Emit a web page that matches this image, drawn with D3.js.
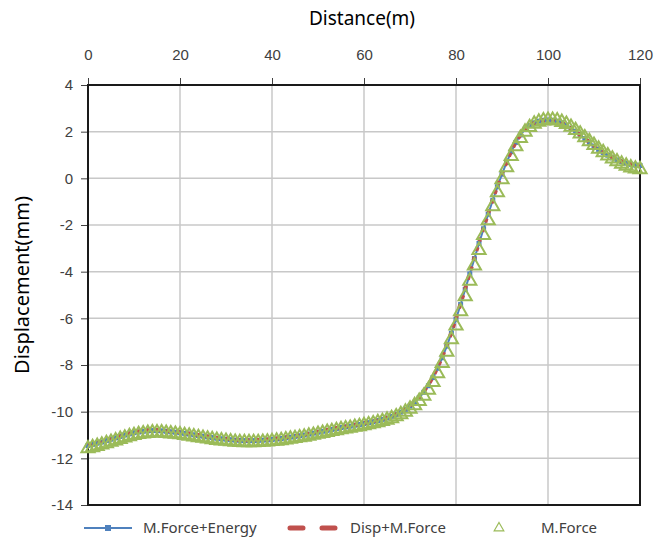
<!DOCTYPE html>
<html>
<head>
<meta charset="utf-8">
<script src="https://cdn.jsdelivr.net/npm/d3@7"></script>
<style>
  body { margin: 0; background: #fff; }
  svg { font-family: "Noto Sans", "Liberation Sans", sans-serif; }
</style>
</head>
<body>
<div id="chart"></div>
<script>
// distances (m) along the line
var distance = [0,1,2,3,4,5,6,7,8,9,10,11,12,13,14,15,16,17,18,19,20,21,22,23,24,25,26,27,28,29,30,
  31,32,33,34,35,36,37,38,39,40,41,42,43,44,45,46,47,48,49,50,51,52,53,54,55,56,57,58,59,60,
  61,62,63,64,65,66,67,68,69,70,71,72,73,74,75,76,77,78,79,80,81,82,83,84,85,86,87,88,89,90,
  91,92,93,94,95,96,97,98,99,100,101,102,103,104,105,106,107,108,109,110,111,112,113,114,115,116,117,118,119,120];

// M.Force+Energy
var forceEnergy = [-11.45,-11.40,-11.35,-11.30,-11.24,-11.18,-11.12,-11.06,-11.00,-10.95,-10.90,-10.87,-10.84,-10.82,-10.81,-10.81,
  -10.82,-10.84,-10.86,-10.88,-10.90,-10.93,-10.96,-10.99,-11.02,-11.05,-11.08,-11.11,-11.14,-11.16,-11.18,
  -11.20,-11.22,-11.23,-11.24,-11.24,-11.24,-11.23,-11.22,-11.21,-11.19,-11.17,-11.15,-11.12,-11.09,-11.06,
  -11.03,-11.00,-10.96,-10.92,-10.88,-10.84,-10.80,-10.76,-10.72,-10.68,-10.65,-10.62,-10.58,-10.55,-10.51,
  -10.47,-10.43,-10.38,-10.33,-10.27,-10.20,-10.12,-10.02,-9.90,-9.76,-9.60,-9.40,-9.17,-8.89,-8.54,
  -8.14,-7.69,-7.19,-6.64,-6.04,-5.41,-4.76,-4.10,-3.44,-2.79,-2.16,-1.54,-0.94,-0.36,0.18,
  0.68,1.14,1.54,1.86,2.10,2.27,2.38,2.45,2.49,2.50,2.49,2.45,2.38,2.28,2.15,
  2.01,1.87,1.70,1.54,1.38,1.24,1.11,0.99,0.88,0.79,0.71,0.65,0.60,0.57,0.55];

// Disp+M.Force
var dispForce = [-11.42,-11.37,-11.32,-11.27,-11.21,-11.15,-11.09,-11.03,-10.98,-10.93,-10.88,-10.85,-10.82,-10.80,-10.79,-10.79,
  -10.80,-10.82,-10.84,-10.86,-10.88,-10.91,-10.94,-10.97,-11.00,-11.03,-11.06,-11.09,-11.12,-11.14,-11.16,
  -11.18,-11.20,-11.21,-11.22,-11.22,-11.22,-11.21,-11.20,-11.19,-11.17,-11.15,-11.13,-11.10,-11.07,-11.04,
  -11.01,-10.98,-10.94,-10.90,-10.86,-10.82,-10.78,-10.74,-10.70,-10.66,-10.63,-10.60,-10.56,-10.53,-10.49,
  -10.45,-10.41,-10.36,-10.31,-10.25,-10.18,-10.10,-10.00,-9.88,-9.74,-9.57,-9.37,-9.13,-8.85,-8.50,
  -8.10,-7.65,-7.15,-6.60,-6.00,-5.37,-4.72,-4.06,-3.40,-2.75,-2.12,-1.50,-0.90,-0.33,0.20,
  0.70,1.16,1.55,1.86,2.09,2.26,2.37,2.44,2.48,2.49,2.48,2.44,2.37,2.27,2.14,
  2.00,1.86,1.71,1.55,1.40,1.26,1.13,1.01,0.90,0.81,0.73,0.67,0.62,0.59,0.57];

// M.Force
var mForce = [-11.58,-11.53,-11.48,-11.42,-11.36,-11.30,-11.24,-11.18,-11.12,-11.06,-11.01,-10.97,-10.94,-10.92,-10.90,-10.90,
  -10.90,-10.92,-10.94,-10.96,-10.98,-11.01,-11.04,-11.07,-11.10,-11.13,-11.16,-11.19,-11.22,-11.24,-11.26,
  -11.28,-11.30,-11.31,-11.32,-11.32,-11.32,-11.31,-11.30,-11.29,-11.27,-11.25,-11.23,-11.20,-11.17,-11.14,
  -11.11,-11.08,-11.04,-11.00,-10.96,-10.92,-10.88,-10.84,-10.80,-10.76,-10.73,-10.70,-10.66,-10.63,-10.59,
  -10.55,-10.51,-10.46,-10.41,-10.35,-10.29,-10.21,-10.12,-10.01,-9.88,-9.73,-9.55,-9.33,-9.07,-8.74,
  -8.36,-7.92,-7.44,-6.90,-6.32,-5.70,-5.06,-4.40,-3.74,-3.08,-2.44,-1.81,-1.20,-0.61,-0.05,
  0.47,0.95,1.37,1.72,1.99,2.19,2.33,2.42,2.47,2.50,2.50,2.47,2.41,2.32,2.20,
  2.06,1.91,1.75,1.58,1.42,1.26,1.11,0.97,0.84,0.72,0.62,0.53,0.46,0.41,0.38];

var xTicks = [0, 20, 40, 60, 80, 100, 120];
var yTicks = [4, 2, 0, -2, -4, -6, -8, -10, -12, -14];
var seriesNames = ["M.Force+Energy", "Disp+M.Force", "M.Force"];

var width = 654, height = 543;
var margin = { top: 85, right: 14, bottom: 38, left: 88 };
var w = width - margin.left - margin.right;
var h = height - margin.top - margin.bottom;

var svg = d3.select("#chart").append("svg")
  .attr("width", width)
  .attr("height", height);

var x = d3.scaleLinear().domain([0, 120]).range([0, w]);
var y = d3.scaleLinear().domain([-14, 4]).range([h, 0]);

var g = svg.append("g")
  .attr("transform", "translate(" + margin.left + "," + margin.top + ")");

// grid
g.append("g").selectAll("line").data(xTicks).enter().append("line")
  .attr("x1", d => x(d)).attr("x2", d => x(d))
  .attr("y1", 0).attr("y2", h)
  .attr("stroke", "#c8c8c8").attr("stroke-width", 1.5);
g.append("g").selectAll("line").data(yTicks).enter().append("line")
  .attr("y1", d => y(d)).attr("y2", d => y(d))
  .attr("x1", 0).attr("x2", w)
  .attr("stroke", "#c8c8c8").attr("stroke-width", 1.5);

// axes: top and left (plain hyphen minus like the original)
var xAxis = g.append("g")
  .call(d3.axisTop(x).tickValues(xTicks).tickSize(7).tickPadding(18).tickSizeOuter(0)
    .tickFormat(d => String(d)));
var yAxis = g.append("g")
  .call(d3.axisLeft(y).tickValues(yTicks).tickSize(7).tickPadding(8).tickSizeOuter(0)
    .tickFormat(d => String(d)));
[xAxis, yAxis].forEach(function (a) {
  a.select(".domain").remove();
  a.selectAll("line").attr("stroke", "#404040").attr("stroke-width", 1);
  a.selectAll("text").attr("fill", "#404040").style("font-size", "15px");
});

// border
g.append("rect")
  .attr("width", w).attr("height", h)
  .attr("fill", "none").attr("stroke", "#1a1a1a").attr("stroke-width", 2);

var line = d3.line()
  .x((d, i) => x(distance[i]))
  .y(d => y(d));

// M.Force+Energy: blue line with small squares
g.append("path").datum(forceEnergy)
  .attr("d", line).attr("fill", "none")
  .attr("stroke", "#4F81BD").attr("stroke-width", 2);
g.append("g").selectAll("rect").data(forceEnergy).enter().append("rect")
  .attr("x", (d, i) => x(distance[i]) - 2.5)
  .attr("y", d => y(d) - 2.5)
  .attr("width", 5).attr("height", 5)
  .attr("fill", "#4F81BD");

// Disp+M.Force: red thick dashes
g.append("path").datum(dispForce)
  .attr("d", line).attr("fill", "none")
  .attr("stroke", "#C0504D").attr("stroke-width", 4)
  .attr("stroke-dasharray", "4,6");

// M.Force: open green triangles
var tri = d3.symbol().type(d3.symbolTriangle).size(75);
g.append("g").selectAll("path").data(mForce).enter().append("path")
  .attr("d", tri)
  .attr("transform", (d, i) => "translate(" + x(distance[i]) + "," + y(d) + ")")
  .attr("fill", "none")
  .attr("stroke", "#9BBB59").attr("stroke-width", 2);

// titles
svg.append("text")
  .attr("x", margin.left + w / 2 - 2).attr("y", 25)
  .attr("text-anchor", "middle")
  .style("font-size", "19px").attr("fill", "#000")
  .text("Distance(m)");
svg.append("text")
  .attr("transform", "translate(29," + (margin.top + h / 2 - 10) + ") rotate(-90)")
  .attr("text-anchor", "middle")
  .style("font-size", "20px").attr("fill", "#000")
  .text("Displacement(mm)");

// legend
var ly = 528;
var leg = svg.append("g");
leg.append("line").attr("x1", 84).attr("x2", 132).attr("y1", ly).attr("y2", ly)
  .attr("stroke", "#4F81BD").attr("stroke-width", 2);
leg.append("rect").attr("x", 105).attr("y", ly - 3).attr("width", 6).attr("height", 6)
  .attr("fill", "#4F81BD");
leg.append("line").attr("x1", 290).attr("x2", 338).attr("y1", ly).attr("y2", ly)
  .attr("stroke", "#C0504D").attr("stroke-width", 5)
  .attr("stroke-linecap", "round").attr("stroke-dasharray", "13,19");
leg.append("path").attr("d", d3.symbol().type(d3.symbolTriangle).size(40))
  .attr("transform", "translate(499," + ly + ")")
  .attr("fill", "none").attr("stroke", "#9BBB59").attr("stroke-width", 1.2);
var lx = [143, 350, 541];
leg.selectAll("text").data(seriesNames).enter().append("text")
  .attr("x", (d, i) => lx[i]).attr("y", ly + 5)
  .style("font-size", "15px").attr("fill", "#404040")
  .text(d => d);
</script>
</body>
</html>
